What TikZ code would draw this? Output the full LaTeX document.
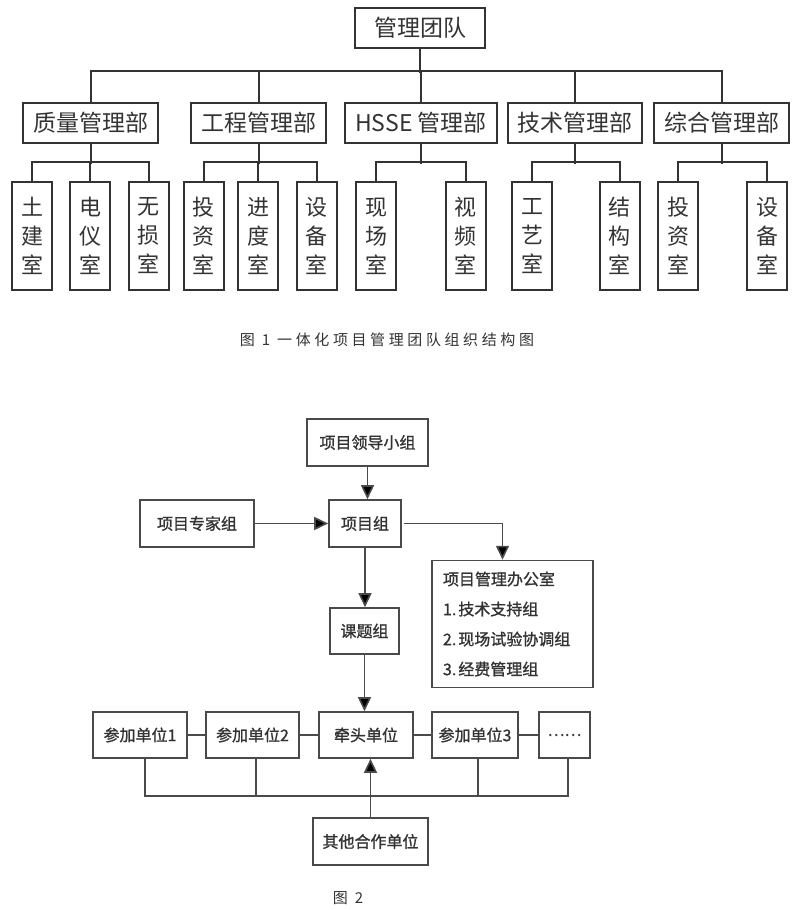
\documentclass[tikz,border=0pt]{standalone}
\usepackage{fontspec}
\setmainfont{Noto Sans CJK SC}
\newfontfamily\flowfont{Noto Sans CJK SC}[FakeBold=1.2]
\usetikzlibrary{arrows.meta, positioning}
\definecolor{linegray}{HTML}{333333}
\definecolor{flowgray}{HTML}{4A4A4A}

\begin{document}
\begin{tikzpicture}[
  x=1pt, y=-1pt,
  box/.style={draw=linegray, line width=2pt, inner sep=0pt, text=linegray,
    font=\fontsize{23}{23}\selectfont},
  dept/.style={box, minimum height=40pt},
  room/.style={box, minimum width=40pt, minimum height=108pt, align=center,
    font=\fontsize{22}{29}\selectfont},
  fbox/.style={draw=flowgray, line width=1.6pt, inner sep=0pt, text=linegray,
    minimum height=47pt, font=\flowfont\fontsize{16}{16}\selectfont},
  arr/.style={-{Triangle[length=14pt,width=13pt,fill=black]}, draw=flowgray, line width=1.6pt},
  lnk/.style={draw=flowgray, line width=1.6pt},
  figcap/.style={text=linegray, font=\fontsize{15}{15}\selectfont}]

  \useasboundingbox (0,0) rectangle (800,910);

  % Figure 1
  \node[box, minimum width=130pt, minimum height=40pt] (team) at (420,28) {管理团队};
  \node[dept, minimum width=135pt] (zl) at (90.5,123) {质量管理部};
  \node[dept, minimum width=135pt] (gc) at (258.5,123) {工程管理部};
  \node[dept, minimum width=152pt] (hs) at (421,123) {HSSE 管理部};
  \node[dept, minimum width=134pt] (js) at (575,123) {技术管理部};
  \node[dept, minimum width=135pt] (zh) at (721.5,123) {综合管理部};

  \node[room] (tj) at (32,236) {土\\建\\室};
  \node[room] (dy) at (90,236) {电\\仪\\室};
  \node[room] (ws) at (148.5,236) {无\\损\\室};
  \node[room] (tz) at (203.5,236) {投\\资\\室};
  \node[room] (jd) at (258,236) {进\\度\\室};
  \node[room] (sb) at (316.5,236) {设\\备\\室};
  \node[room] (xc) at (376,236) {现\\场\\室};
  \node[room] (sp) at (465.5,236) {视\\频\\室};
  \node[room] (gy) at (532,236) {工\\艺\\室};
  \node[room] (jg) at (619.5,236) {结\\构\\室};
  \node[room] (tz2) at (678,236) {投\\资\\室};
  \node[room] (sb2) at (767,236) {设\\备\\室};

  \draw[linegray, line width=2pt] (team.south) -- ++(0,24);
  \draw[linegray, line width=2pt] (zl.north) -- ++(0,-31) -| (zh.north);
  \foreach \d in {gc, hs, js}
    \draw[linegray, line width=2pt] (\d.north) -- ++(0,-31);
  \foreach \d in {zl, gc, hs, js, zh}
    \draw[linegray, line width=2pt] (\d.south) -- ++(0,20);
  \foreach \a/\b in {tj/ws, tz/sb, xc/sp, gy/jg, tz2/sb2}
    \draw[linegray, line width=2pt] (\a.north) -- ++(0,-19) -| (\b.north);
  \foreach \r in {dy, jd}
    \draw[linegray, line width=2pt] (\r.north) -- ++(0,-19);

  \node[figcap] (cap1) at (387,340)
    {\addfontfeature{LetterSpace=24}图 1 一体化项目管理团队组织结构图};

  % Figure 2
  \node[fbox, minimum width=121pt] (lead) at (367.5,442.5) {项目领导小组};
  \node[fbox, minimum width=72pt] (xm) at (365,523.5) {项目组};
  \node[fbox, minimum width=114pt] (zj) at (197,523.5) {项目专家组};
  \node[fbox, text width=139pt, inner sep=11pt, align=left,
    font=\flowfont\fontsize{16}{30}\selectfont] (office) at (512.5,624)
    {项目管理办公室\\1.\hspace{2pt}技术支持组\\2.\hspace{2pt}现场试验协调组\\3.\hspace{2pt}经费管理组};
  \node[fbox, minimum width=69pt, minimum height=46pt] (kt) at (364.5,631) {课题组};

  \node[fbox, minimum width=94pt, minimum height=46pt] (c1) at (140,735) {参加单位1};
  \node[fbox, minimum width=93pt, minimum height=46pt] (c2) at (252.5,735) {参加单位2};
  \node[fbox, minimum width=94pt, minimum height=46pt] (qt) at (366,735) {牵头单位};
  \node[fbox, minimum width=86pt, minimum height=46pt] (c3) at (475,735) {参加单位3};
  \node[fbox, minimum width=51pt, minimum height=46pt] (more) at (564.5,735) {……};
  \node[fbox, minimum width=115pt] (other) at (370.5,841.5) {其他合作单位};

  \draw[arr] (lead.south) -- (lead.south |- xm.north);
  \draw[arr] (zj.east) -- (xm.west);
  \draw[arr] ([xshift=2pt]xm.east) -| ([xshift=-10pt]office.north);
  \draw[arr] (xm.south) -- (xm.south |- kt.north);
  \draw[arr] (kt.south) -- (kt.south |- qt.north);
  \draw[lnk] (c1) -- (c2) (c2) -- (qt) (qt) -- (c3) (c3) -- (more);
  \draw[lnk] ([xshift=5pt]c1.south) -- ++(0,37) -| ([xshift=3.5pt]more.south);
  \draw[lnk] ([xshift=3.5pt]c2.south) -- ++(0,37);
  \draw[lnk] ([xshift=3pt]c3.south) -- ++(0,37);
  \draw[arr] (other.north) -- (other.north |- qt.south);

  \node[figcap] (cap2) at (348,898) {\addfontfeature{LetterSpace=24}图 2};
\end{tikzpicture}
\end{document}
